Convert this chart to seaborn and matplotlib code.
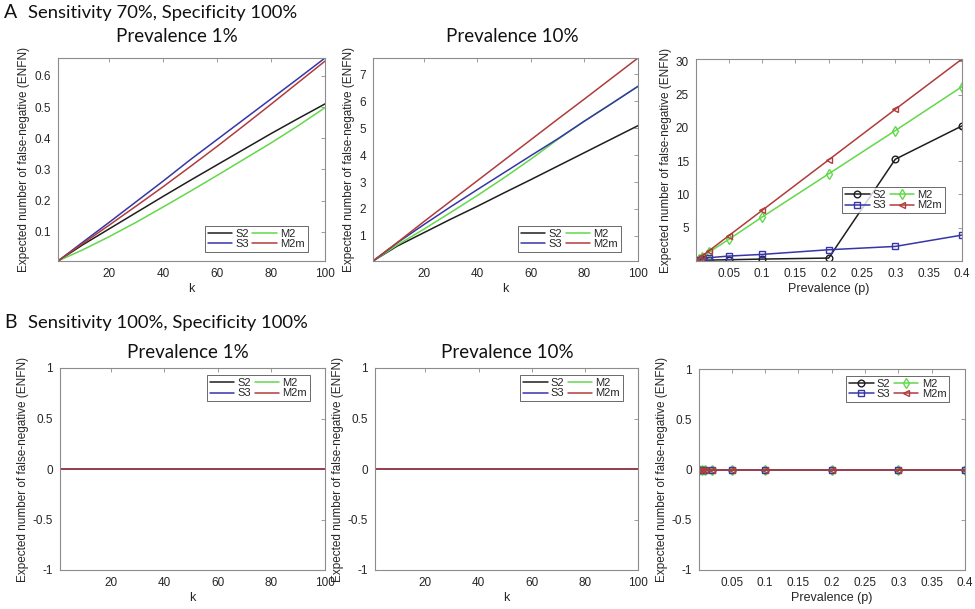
import numpy as np
import pandas as pd
import matplotlib
matplotlib.use('Agg')
import matplotlib.pyplot as plt
import seaborn as sns

# ---- data ----
methods = ['S2', 'S3', 'M2', 'M2m']
colors = {'S2': '#1e1e1e', 'S3': '#3636a8', 'M2': '#62d84a', 'M2m': '#b03c3c'}
marks = {'S2': 'o', 'S3': 's', 'M2': 'd', 'M2m': '<'}

k_vals = [1, 10, 20, 30, 40, 50, 60, 70, 80, 90, 100]

# Sensitivity 70%, prevalence 1%
p1_S2 = [0.007, 0.058, 0.110, 0.162, 0.214, 0.265, 0.315, 0.365, 0.415, 0.463, 0.510]
p1_S3 = [0.007, 0.066, 0.131, 0.197, 0.263, 0.331, 0.396, 0.461, 0.526, 0.591, 0.657]
p1_M2 = [0.007, 0.042, 0.085, 0.131, 0.180, 0.230, 0.281, 0.333, 0.385, 0.440, 0.498]
p1_M2m = [0.007, 0.062, 0.122, 0.183, 0.245, 0.309, 0.374, 0.441, 0.509, 0.578, 0.647]

# Sensitivity 70%, prevalence 10%
p10_S2 = [0.07, 0.62, 1.12, 1.62, 2.10, 2.60, 3.09, 3.59, 4.09, 4.59, 5.09]
p10_S3 = [0.07, 0.74, 1.42, 2.08, 2.72, 3.35, 3.98, 4.60, 5.26, 5.90, 6.55]
p10_M2 = [0.07, 0.66, 1.25, 1.87, 2.50, 3.16, 3.85, 4.58, 5.26, 5.90, 6.55]
p10_M2m = [0.07, 0.75, 1.53, 2.29, 3.05, 3.81, 4.57, 5.33, 6.08, 6.84, 7.60]

# Sensitivity 70%, ENFN vs prevalence
prev = [0.001, 0.005, 0.01, 0.02, 0.05, 0.1, 0.2, 0.3, 0.4]
pv_S2 = [0.01, 0.05, 0.10, 0.15, 0.20, 0.30, 0.45, 15.3, 20.3]
pv_S3 = [0.05, 0.15, 0.30, 0.50, 0.75, 1.00, 1.70, 2.20, 3.90]
pv_M2 = [0.066, 0.33, 0.66, 1.30, 3.25, 6.60, 13.1, 19.6, 26.2]
pv_M2m = [0.076, 0.38, 0.76, 1.50, 3.80, 7.60, 15.2, 22.8, 30.35]

# Sensitivity 100%: every method gives zero
zeros_k = [0] * len(k_vals)
zeros_p = [0] * len(prev)

sns.set_style('white')
plt.rcParams['font.family'] = ['Liberation Sans', 'DejaVu Sans']
plt.rcParams['axes.edgecolor'] = '#8c8c8c'
plt.rcParams['axes.linewidth'] = 0.8

fig = plt.figure(figsize=(9.75, 6.09), dpi=100)
W, H = 975, 609


def add_ax(l, r, t, b):
    return fig.add_axes([l / W, 1 - b / H, (r - l) / W, (b - t) / H])


def draw(ax, x, series, with_marker, xname):
    for m in ['S2', 'M2', 'S3', 'M2m']:
        df = pd.DataFrame({xname: x, 'ENFN': series[m]})
        kw = {}
        if with_marker:
            kw = dict(marker=marks[m], markersize=4.8, markerfacecolor='none',
                      markeredgecolor=colors[m], markeredgewidth=1.0)
        sns.lineplot(data=df, x=xname, y='ENFN', color=colors[m], linewidth=1.1,
                     ax=ax, label=m, **kw)
    h, lab = ax.get_legend_handles_labels()
    handles = dict(zip(lab, h))
    return [handles[m] for m in methods]


def style(ax, xlabel):
    ax.tick_params(direction='in', length=3, width=0.6, colors='#8c8c8c',
                   labelcolor='#262626', labelsize=8.5, top=True, right=True, pad=5)
    ax.set_xlabel(xlabel, fontsize=9, color='#262626', labelpad=2)
    ax.set_ylabel('Expected number of false-negative (ENFN)', fontsize=8.5,
                  color='#262626', labelpad=3)
    for s in ax.spines.values():
        s.set_visible(True)


def leg(ax, hs, loc, anchor):
    lg = ax.legend(hs, methods, ncol=2, loc=loc, bbox_to_anchor=anchor,
                   borderaxespad=0, fontsize=8, frameon=True, fancybox=False,
                   handlelength=2.2, handletextpad=0.3, columnspacing=0.3,
                   labelspacing=0.05, borderpad=0.25)
    lg.get_frame().set_edgecolor('#262626')
    lg.get_frame().set_linewidth(0.6)


def fmt(v):
    return '%g' % v


# ---- top row ----
ax1 = add_ax(58, 325, 58, 261)
hs = draw(ax1, k_vals, {'S2': p1_S2, 'S3': p1_S3, 'M2': p1_M2, 'M2m': p1_M2m}, False, 'k')
ax1.set_xlim(1, 100)
ax1.set_ylim(min(p1_S2), max(p1_S3))
ax1.set_xticks([20, 40, 60, 80, 100])
ax1.set_yticks([0.1, 0.2, 0.3, 0.4, 0.5, 0.6])
ax1.set_yticklabels([fmt(v) for v in ax1.get_yticks()])
style(ax1, 'k')
leg(ax1, hs, 'lower right', (0.935, 0.045))

ax2 = add_ax(373, 638, 58, 261)
hs = draw(ax2, k_vals, {'S2': p10_S2, 'S3': p10_S3, 'M2': p10_M2, 'M2m': p10_M2m}, False, 'k')
ax2.set_xlim(1, 100)
ax2.set_ylim(min(p10_S2), max(p10_M2m))
ax2.set_xticks([20, 40, 60, 80, 100])
ax2.set_yticks([1, 2, 3, 4, 5, 6, 7])
style(ax2, 'k')
leg(ax2, hs, 'lower right', (0.935, 0.045))

ax3 = add_ax(696, 962, 59, 261)
hs = draw(ax3, prev, {'S2': pv_S2, 'S3': pv_S3, 'M2': pv_M2, 'M2m': pv_M2m}, True, 'p')
ax3.set_xlim(min(prev), max(prev))
ax3.set_ylim(min(pv_S2), max(pv_M2m))
ax3.set_xticks([0.05, 0.1, 0.15, 0.2, 0.25, 0.3, 0.35, 0.4])
ax3.set_xticklabels([fmt(v) for v in ax3.get_xticks()])
ax3.set_yticks([5, 10, 15, 20, 25, 30])
style(ax3, 'Prevalence (p)')
leg(ax3, hs, 'upper right', (0.936, 0.366))

# ---- bottom row ----
zk = {m: zeros_k for m in methods}
zp = {m: zeros_p for m in methods}
ax4 = add_ax(60, 325, 368, 570)
hs = draw(ax4, k_vals, zk, False, 'k')
ax5 = add_ax(375, 638, 368, 570)
hs5 = draw(ax5, k_vals, zk, False, 'k')
for ax, h in [(ax4, hs), (ax5, hs5)]:
    ax.set_xlim(1, 100)
    ax.set_ylim(-1, 1)
    ax.set_xticks([20, 40, 60, 80, 100])
    ax.set_yticks([-1, -0.5, 0, 0.5, 1])
    ax.set_yticklabels([fmt(v) for v in ax.get_yticks()])
    style(ax, 'k')
    leg(ax, h, 'upper right', (0.943, 0.965))

ax6 = add_ax(699, 965, 369, 570)
hs = draw(ax6, prev, zp, True, 'p')
ax6.set_xlim(min(prev), max(prev))
ax6.set_ylim(-1, 1)
ax6.set_xticks([0.05, 0.1, 0.15, 0.2, 0.25, 0.3, 0.35, 0.4])
ax6.set_xticklabels([fmt(v) for v in ax6.get_xticks()])
ax6.set_yticks([-1, -0.5, 0, 0.5, 1])
ax6.set_yticklabels([fmt(v) for v in ax6.get_yticks()])
style(ax6, 'Prevalence (p)')
leg(ax6, hs, 'upper right', (0.94, 0.965))

# ---- headings ----
tf = dict(family=['Lato', 'DejaVu Sans'], color='#111111')
fig.text(4 / W, 1 - 13 / H, 'A', fontsize=14, va='center', ha='left', **tf)
fig.text(28 / W, 1 - 13 / H, 'Sensitivity 70%, Specificity 100%', fontsize=13.3,
         va='center', ha='left', **tf)
fig.text(4 / W, 1 - 323 / H, 'B', fontsize=14, va='center', ha='left', **tf)
fig.text(28 / W, 1 - 323 / H, 'Sensitivity 100%, Specificity 100%', fontsize=13.3,
         va='center', ha='left', **tf)
fig.text(177 / W, 1 - 36 / H, 'Prevalence 1%', fontsize=13.5, va='center', ha='center', **tf)
fig.text(512 / W, 1 - 36 / H, 'Prevalence 10%', fontsize=13.5, va='center', ha='center', **tf)
fig.text(188 / W, 1 - 353 / H, 'Prevalence 1%', fontsize=13.5, va='center', ha='center', **tf)
fig.text(507 / W, 1 - 353 / H, 'Prevalence 10%', fontsize=13.5, va='center', ha='center', **tf)

fig.savefig('out.png', dpi=100, facecolor='white')
